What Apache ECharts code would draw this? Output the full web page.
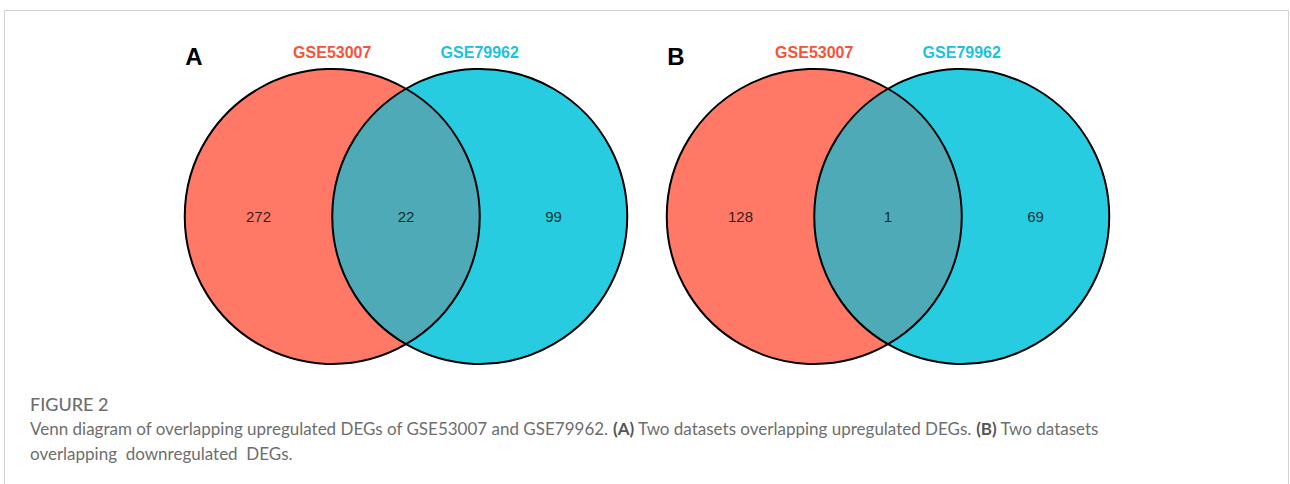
<!DOCTYPE html>
<html>
<head>
<meta charset="utf-8">
<script src="https://cdn.jsdelivr.net/npm/echarts@6/dist/echarts.min.js"></script>
<style>
  html, body { margin: 0; padding: 0; background: #fff; }
  #chart { width: 1290px; height: 484px; }
</style>
</head>
<body>
<div id="chart"></div>
<script>
// set names and counts (only left, shared, only right)
const setNames = ["GSE53007", "GSE79962"];
const panelLabels = ["A", "B"];
const countsA = [272, 22, 99];
const countsB = [128, 1, 69];
const regionX = [-1, 0, 1]; // label positions in circle units (radius = 1)

// layout in pixels
const PANEL_CX = [406, 888];
const CY = 216.5;
const R = 147.5;

const LEFT_FILL = "#FF7966";
const RIGHT_FILL = "#27CCE1";
const BOTH_FILL = "#4FAAB7";

function renderVenn(params, api) {
  const cL = api.coord([-0.5, 0]);
  const cR = api.coord([0.5, 0]);
  const r = api.size([1, 1])[0];

  // lens made from the two inner arcs
  const pts = [];
  for (let i = 0; i <= 60; i++) {
    const t = (-60 + i * 2) * Math.PI / 180;
    pts.push(api.coord([-0.5 + Math.cos(t), Math.sin(t)]));
  }
  for (let i = 0; i <= 60; i++) {
    const t = (60 + i * 2) * Math.PI / 180 + Math.PI / 3;
    pts.push(api.coord([0.5 + Math.cos(t), Math.sin(t)]));
  }

  const outline = { fill: "none", stroke: "#000", lineWidth: 2 };
  return {
    type: "group",
    children: [
      { type: "circle", shape: { cx: cL[0], cy: cL[1], r: r }, style: { fill: LEFT_FILL } },
      { type: "circle", shape: { cx: cR[0], cy: cR[1], r: r }, style: { fill: RIGHT_FILL } },
      { type: "polygon", shape: { points: pts }, style: { fill: BOTH_FILL } },
      { type: "circle", shape: { cx: cL[0], cy: cL[1], r: r }, style: outline },
      { type: "circle", shape: { cx: cR[0], cy: cR[1], r: r }, style: outline },
    ],
  };
}

function labelData(counts) {
  return counts.map((c, i) => [regionX[i], 0, c]);
}

const grids = PANEL_CX.map((cx) => ({
  left: cx - 1.5 * R,
  top: CY - R,
  width: 3 * R,
  height: 2 * R,
}));

const series = [];
[countsA, countsB].forEach((counts, k) => {
  series.push({
    type: "custom",
    xAxisIndex: k,
    yAxisIndex: k,
    data: [[0, 0]],
    renderItem: renderVenn,
    clip: false,
    silent: true,
    z: 1,
  });
  series.push({
    type: "scatter",
    xAxisIndex: k,
    yAxisIndex: k,
    data: labelData(counts),
    symbolSize: 0,
    silent: true,
    z: 5,
    label: {
      show: true,
      position: "inside",
      formatter: (p) => String(p.value[2]),
      fontFamily: "Liberation Sans, Arial, sans-serif",
      fontSize: 15,
      color: "#000",
    },
  });
});

// titles, panel letters, caption, frame
const graphics = [
  {
    type: "rect",
    shape: { x: 4.5, y: 10.5, width: 1284, height: 520 },
    style: { fill: "none", stroke: "#d2d2d2", lineWidth: 1 },
    silent: true,
  },
];
PANEL_CX.forEach((cx, k) => {
  graphics.push({
    type: "text",
    x: cx - 212,
    y: 56,
    style: {
      text: panelLabels[k],
      font: "bold 24px Liberation Sans, Arial, sans-serif",
      fill: "#000",
      align: "center",
      verticalAlign: "middle",
    },
  });
  graphics.push({
    type: "text",
    x: cx - 0.5 * R,
    y: 52,
    style: {
      text: setNames[0],
      font: "bold 16px Liberation Sans, Arial, sans-serif",
      fill: "#F5543C",
      align: "center",
      verticalAlign: "middle",
    },
  });
  graphics.push({
    type: "text",
    x: cx + 0.5 * R,
    y: 52,
    style: {
      text: setNames[1],
      font: "bold 16px Liberation Sans, Arial, sans-serif",
      fill: "#1DC2DA",
      align: "center",
      verticalAlign: "middle",
    },
  });
});

const captionFont = "Lato, Open Sans, sans-serif";
graphics.push({
  type: "text",
  x: 30,
  y: 404,
  style: {
    text: "FIGURE 2",
    font: "500 18px " + captionFont,
    fill: "#6e6e6e",
    verticalAlign: "middle",
  },
});
graphics.push({
  type: "text",
  x: 30,
  y: 428,
  style: {
    text: "Venn diagram of overlapping upregulated DEGs of GSE53007 and GSE79962. {b|(A)} Two datasets overlapping upregulated DEGs. {b|(B)} Two datasets",
    font: "17px " + captionFont,
    fill: "#6e6e6e",
    verticalAlign: "middle",
    rich: { b: { fontWeight: "bold", fontSize: 17, fontFamily: captionFont, fill: "#555" } },
  },
});
graphics.push({
  type: "text",
  x: 30,
  y: 453,
  style: {
    text: "overlapping  downregulated  DEGs.",
    font: "17px " + captionFont,
    fill: "#6e6e6e",
    verticalAlign: "middle",
  },
});

const chart = echarts.init(document.getElementById("chart"), null, { renderer: "svg" });
chart.setOption({
  animation: false,
  backgroundColor: "#fff",
  grid: grids,
  xAxis: grids.map((g, i) => ({ type: "value", gridIndex: i, min: -1.5, max: 1.5, show: false })),
  yAxis: grids.map((g, i) => ({ type: "value", gridIndex: i, min: -1, max: 1, show: false })),
  series: series,
  graphic: graphics,
});
</script>
</body>
</html>
